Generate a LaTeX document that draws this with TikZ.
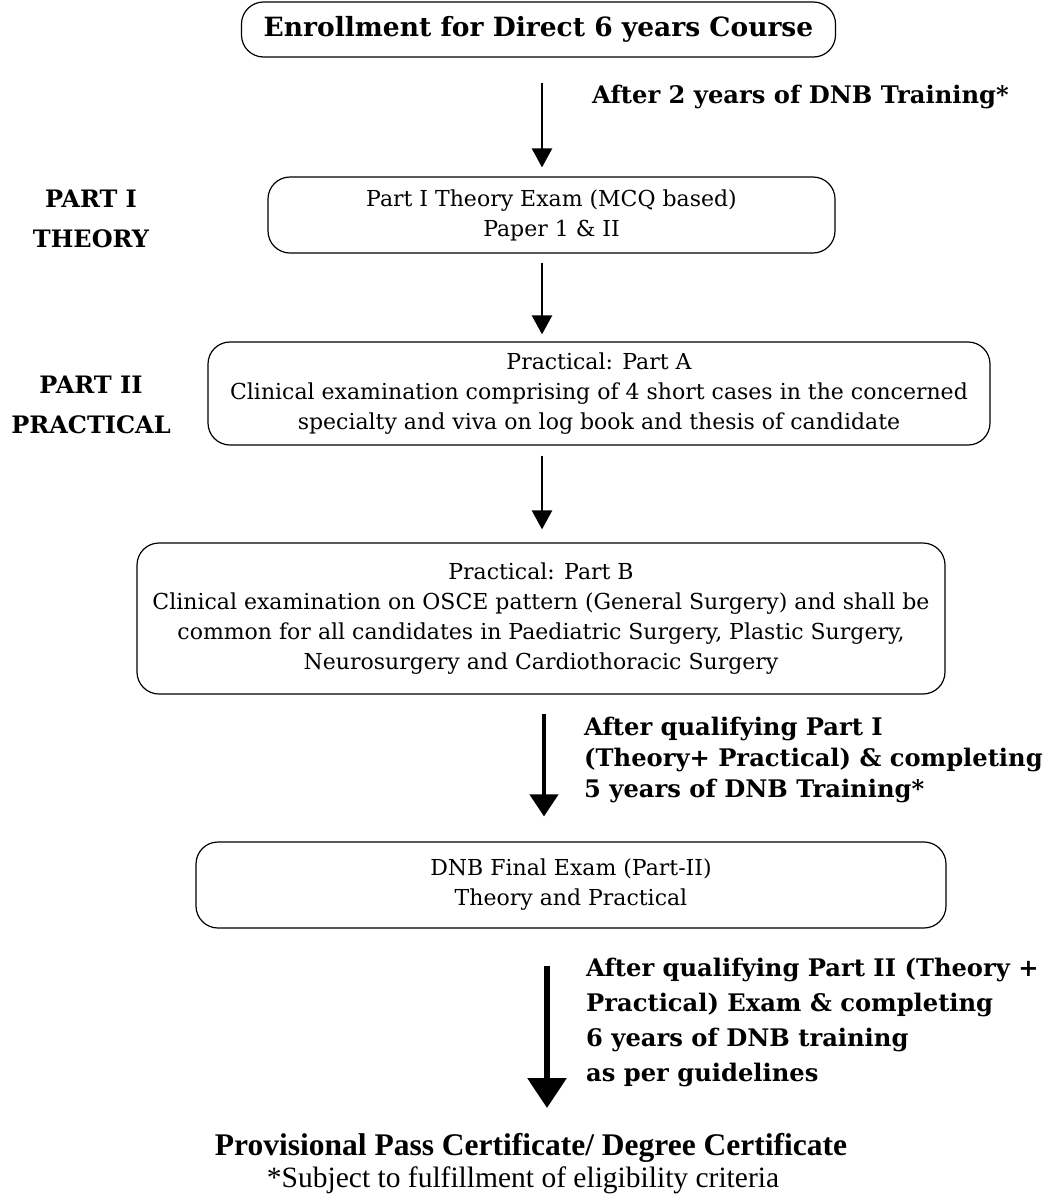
\documentclass[tikz,border=0pt]{standalone}
\usepackage{fontspec}
\setmainfont{DejaVu Serif}
\newfontfamily\condfont{Liberation Serif}
\usetikzlibrary{arrows.meta}
\tikzset{
  box/.style={draw, line width=1.2pt, rounded corners=22pt, align=center, inner sep=0pt},
  reg/.style={font=\fontsize{22}{30}\selectfont},
  lbl/.style={font=\fontsize{24.2}{31}\selectfont\bfseries, align=left, inner sep=0pt, anchor=west},
  side/.style={font=\fontsize{24}{40}\selectfont\bfseries, align=center, inner sep=0pt},
  arr/.style={line width=2.5pt, -{Triangle[width=20pt,length=19pt]}},
}
\begin{document}
\begin{tikzpicture}[x=1pt,y=-1pt]
\useasboundingbox (0,0) rectangle (1063,1197);
% boxes
\node[box, minimum width=594pt, minimum height=55pt, font=\fontsize{26.5}{30}\selectfont\bfseries] (b1) at (538.5,29.5) {Enrollment for Direct 6 years Course};
\node[box, reg, minimum width=567pt, minimum height=76pt] (b2) at (551.5,215) {Part I Theory Exam (MCQ based)\\Paper 1 \& II};
\node[box, reg, minimum width=782pt, minimum height=103pt] (b3) at (599,393.5) {Practical: Part A\\Clinical examination comprising of 4 short cases in the concerned\\specialty and viva on log book and thesis of candidate};
\node[box, reg, minimum width=808pt, minimum height=151pt] (b4) at (541,618.5) {Practical: Part B\\Clinical examination on OSCE pattern (General Surgery) and shall be\\common for all candidates in Paediatric Surgery, Plastic Surgery,\\Neurosurgery and Cardiothoracic Surgery};
\node[box, reg, minimum width=750pt, minimum height=86pt] (b5) at (571,885) {DNB Final Exam (Part-II)\\Theory and Practical};
% final text
\node[font=\fontsize{31.5}{34}\selectfont\bfseries\condfont, inner sep=0pt] (fin) at (531,1148) {Provisional Pass Certificate/ Degree Certificate};
\node[font=\fontsize{29.5}{32}\selectfont\condfont, inner sep=0pt] (note) at (523,1180) {*Subject to fulfillment of eligibility criteria};
% side labels
\node[side] (p1) at (91,219) {PART I\\THEORY};
\node[side] (p2) at (91,405) {PART II\\PRACTICAL};
% connectors
\coordinate (x1) at (542,0);
\coordinate (x4) at (544,0);
\coordinate (x5) at (547,0);
\coordinate (a5e) at (547,1108);
\draw[arr, shorten <=25pt, shorten >=9pt] (x1 |- b1.south) -- (x1 |- b2.north);
\draw[arr, shorten <=9pt, shorten >=7pt] (x1 |- b2.south) -- (x1 |- b3.north);
\draw[arr, shorten <=10pt, shorten >=13pt] (x1 |- b3.south) -- (x1 |- b4.north);
\draw[line width=4.5pt, -{Triangle[width=28pt,length=22pt]}, shorten <=19pt, shorten >=25pt] (x4 |- b4.south) -- (x4 |- b5.north);
\draw[line width=6pt, -{Triangle[width=38pt,length=30pt]}, shorten <=37pt] (x5 |- b5.south) -- (a5e);
% arrow labels
\node[lbl] (l1) at (592,97) {After 2 years of DNB Training*};
\node[lbl] (l4) at (584,760) {After qualifying Part I\\(Theory+ Practical) \& completing\\5 years of DNB Training*};
\node[lbl, font=\fontsize{24.2}{35}\selectfont\bfseries] (l5) at (586,1022) {After qualifying Part II (Theory +\\Practical) Exam \& completing\\6 years of DNB training\\as per guidelines};
\end{tikzpicture}
\end{document}
